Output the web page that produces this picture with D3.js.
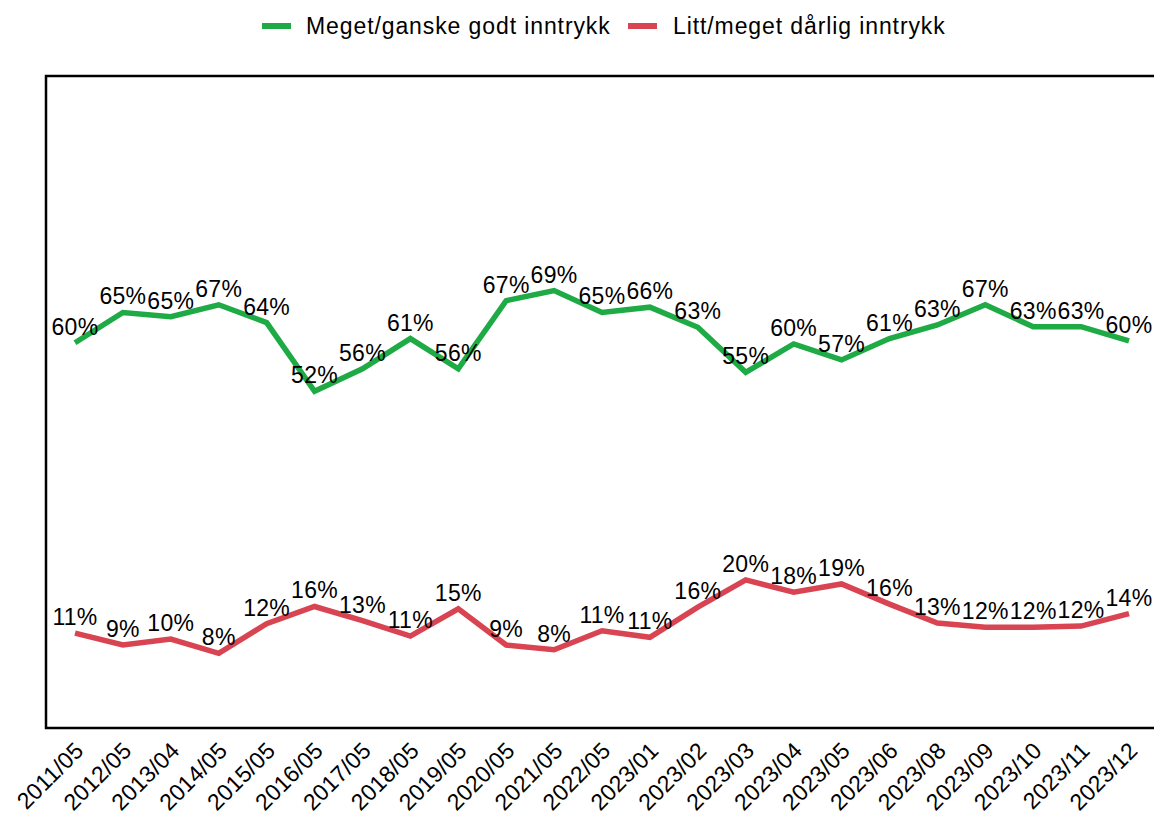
<!DOCTYPE html>
<html>
<head>
<meta charset="utf-8">
<script src="https://cdn.jsdelivr.net/npm/d3@7"></script>
<style>
  body { margin: 0; background: #fff; }
  text { font-family: "Liberation Sans", Arial, sans-serif; }
</style>
</head>
<body>
<div id="chart"></div>
<script>
  const categories = ['2011/05', '2012/05', '2013/04', '2014/05', '2015/05', '2016/05', '2017/05', '2018/05',
    '2019/05', '2020/05', '2021/05', '2022/05', '2023/01', '2023/02', '2023/03', '2023/04', '2023/05',
    '2023/06', '2023/08', '2023/09', '2023/10', '2023/11', '2023/12'];
  const good = [60.0, 65.1, 64.4, 66.4, 63.4, 51.8, 55.6, 60.7, 55.6, 67.1, 68.8, 65.1, 66.0, 62.6, 55.0,
    59.8, 57.1, 60.7, 63.0, 66.4, 62.7, 62.7, 60.3];
  const goodLabels = [60, 65, 65, 67, 64, 52, 56, 61, 56, 67, 69, 65, 66, 63, 55, 60, 57, 61, 63, 67, 63, 63, 60];
  const bad = [11.0, 9.0, 10.0, 7.6, 12.6, 15.5, 13.1, 10.5, 15.1, 9.0, 8.2, 11.4, 10.3, 15.4, 20.0,
    17.9, 19.3, 15.9, 12.7, 12.0, 12.0, 12.2, 14.3];
  const badLabels = [11, 9, 10, 8, 12, 16, 13, 11, 15, 9, 8, 11, 11, 16, 20, 18, 19, 16, 13, 12, 12, 12, 14];
  const seriesNames = ['Meget/ganske godt inntrykk', 'Litt/meget dårlig inntrykk'];
  const colors = ['#1eaa44', '#d84452'];

  const width = 1154;
  const height = 819;
  const margin = { top: 76, bottom: 91, left: 46, right: 0 };

  const svg = d3.select('#chart')
    .append('svg')
    .attr('width', width)
    .attr('height', height);

  const x = d3.scalePoint()
    .domain(categories)
    .range([75, 1129]);

  const y = d3.scaleLinear()
    .domain([-5, 105])
    .range([height - margin.bottom, margin.top]);

  // frame: left, top, bottom
  svg.append('path')
    .attr('d', `M${width},${margin.top}H${margin.left}V${height - margin.bottom}H${width}`)
    .attr('fill', 'none')
    .attr('stroke', '#000')
    .attr('stroke-width', 2.5);

  // x labels
  svg.append('g')
    .selectAll('text')
    .data(categories)
    .join('text')
      .attr('transform', d => `translate(${x(d) + 10},${height - margin.bottom + 24}) rotate(-45)`)
      .attr('text-anchor', 'end')
      .attr('font-size', '23px')
      .attr('letter-spacing', '0.2px')
      .attr('fill', '#000')
      .text(d => d);

  const series = [
    { name: seriesNames[0], values: good, labels: goodLabels, color: colors[0] },
    { name: seriesNames[1], values: bad, labels: badLabels, color: colors[1] }
  ];

  const line = d3.line()
    .x((d, i) => x(categories[i]))
    .y(d => y(d));

  series.forEach(s => {
    svg.append('path')
      .datum(s.values)
      .attr('fill', 'none')
      .attr('stroke', s.color)
      .attr('stroke-width', 5.5)
      .attr('d', line);

    svg.append('g')
      .selectAll('text')
      .data(s.values)
      .join('text')
        .attr('x', (d, i) => x(categories[i]))
        .attr('y', d => y(d) - 8)
        .attr('text-anchor', 'middle')
        .attr('font-size', '23px')
        .attr('letter-spacing', '0.3px')
        .attr('fill', '#000')
        .text((d, i) => s.labels[i] + '%');
  });

  // legend
  const legend = svg.append('g');
  const legendX = [262, 628];
  series.forEach((s, i) => {
    const g = legend.append('g').attr('transform', `translate(${legendX[i]},26)`);
    g.append('line')
      .attr('x1', 0).attr('x2', 29)
      .attr('stroke', s.color)
      .attr('stroke-width', 6);
    g.append('text')
      .attr('x', i === 0 ? 44 : 45)
      .attr('dy', '0.35em')
      .attr('font-size', '23px')
      .attr('letter-spacing', '0.9px')
      .attr('fill', '#000')
      .text(s.name);
  });
</script>
</body>
</html>
